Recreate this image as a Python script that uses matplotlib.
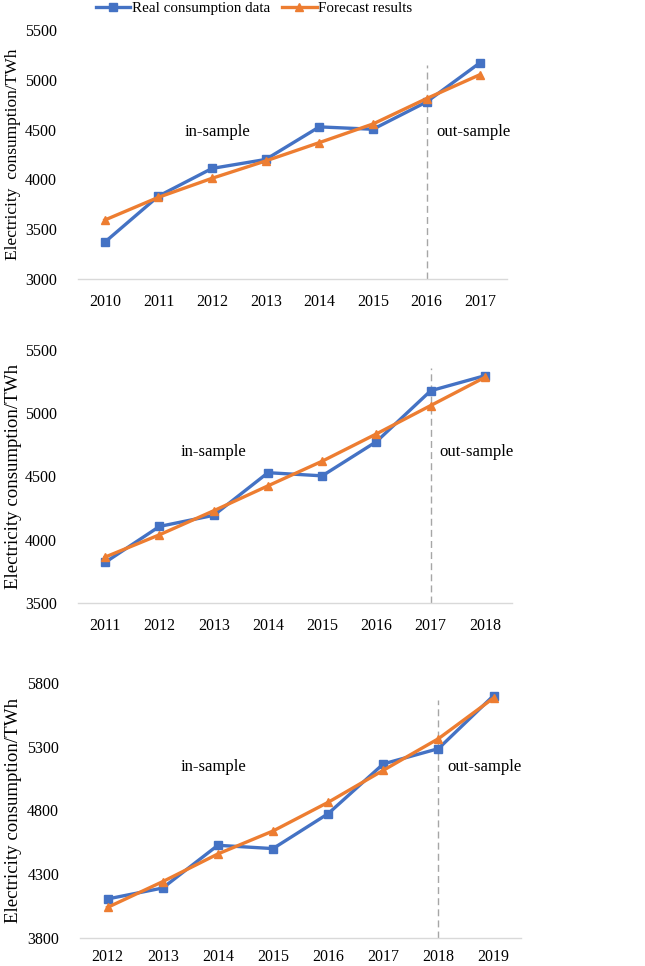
import matplotlib
matplotlib.use('Agg')
import matplotlib.pyplot as plt
import numpy as np

plt.rcParams['font.family'] = ['Liberation Serif', 'DejaVu Serif']

# data
years1 = ['2010', '2011', '2012', '2013', '2014', '2015', '2016', '2017']
real1 = [3370, 3832, 4110, 4200, 4527, 4503, 4777, 5172]
fore1 = [3592, 3820, 4011, 4185, 4369, 4556, 4811, 5052]

years2 = ['2011', '2012', '2013', '2014', '2015', '2016', '2017', '2018']
real2 = [3821, 4105, 4193, 4530, 4505, 4776, 5178, 5297]
fore2 = [3863, 4039, 4229, 4426, 4621, 4837, 5061, 5284]

years3 = ['2012', '2013', '2014', '2015', '2016', '2017', '2018', '2019']
real3 = [4106, 4192, 4527, 4501, 4775, 5165, 5285, 5701]
fore3 = [4040, 4242, 4459, 4639, 4864, 5115, 5363, 5682]

yticks1 = [3000, 3500, 4000, 4500, 5000, 5500]
yticks2 = [3500, 4000, 4500, 5000, 5500]
yticks3 = [3800, 4300, 4800, 5300, 5800]

ylabel1 = 'Electricity  consumption/TWh'
ylabel2 = 'Electricity consumption/TWh'

blue = '#4472C4'
orange = '#ED7D31'

fig = plt.figure(figsize=(6.45, 9.66), dpi=100)

panels = [
    # rect, years, real, fore, yticks, dash top, text y, in-x, out-x, label, label size, label x, xpad
    ([0.121, 0.7112, 0.665, 0.2578], years1, real1, fore1, yticks1, 5150, 4475, 2.1, 6.88, ylabel1, 12.5, -0.133, 11),
    ([0.121, 0.3758, 0.673, 0.2619], years2, real2, fore2, yticks2, 5358, 4694, 2.0, 6.84, ylabel2, 13.6, -0.128, 11),
    ([0.124, 0.0290, 0.684, 0.2640], years3, real3, fore3, yticks3, 5667, 5141, 1.92, 6.83, ylabel2, 13.6, -0.131, 8),
]

lines = []
for rect, yrs, real, fore, yt, dtop, ty, inx, outx, lab, labsize, labx, xpad in panels:
    ax = fig.add_axes(rect)
    x = np.arange(len(yrs))
    l1, = ax.plot(x, real, color=blue, lw=2.4, marker='s', ms=5.5, clip_on=False, zorder=3)
    l2, = ax.plot(x, fore, color=orange, lw=2.4, marker='^', ms=5.5, clip_on=False, zorder=4)
    lines = [l1, l2]
    ax.plot([6, 6], [yt[0], dtop], color='#A6A6A6', lw=1, ls=(0, (5, 3)), zorder=2)
    ax.set_xlim(-0.5, len(yrs) - 0.5)
    ax.set_ylim(yt[0], yt[-1])
    ax.set_xticks(x)
    ax.set_xticklabels(yrs, fontsize=11.5)
    ax.set_yticks(yt)
    ax.set_yticklabels([str(v) for v in yt], fontsize=11.5)
    ax.tick_params(length=0)
    ax.tick_params(axis='x', pad=xpad)
    ax.tick_params(axis='y', pad=15)
    for s in ['top', 'right', 'left']:
        ax.spines[s].set_visible(False)
    ax.spines['bottom'].set_color('#D9D9D9')
    ax.spines['bottom'].set_linewidth(1)
    ax.text(inx, ty, 'in-sample', ha='center', va='center', fontsize=12)
    ax.text(outx, ty, 'out-sample', ha='center', va='center', fontsize=12)
    ax.set_ylabel(lab, fontsize=labsize)
    ax.yaxis.set_label_coords(labx, 0.5)

fig.legend(lines, ['Real consumption data', 'Forecast results'],
           loc='center', bbox_to_anchor=(0.394, 0.991), ncol=2, frameon=False,
           fontsize=10.8, handlelength=2.3, handletextpad=0.1, columnspacing=0.8)

fig.savefig('out.png', dpi=100)
